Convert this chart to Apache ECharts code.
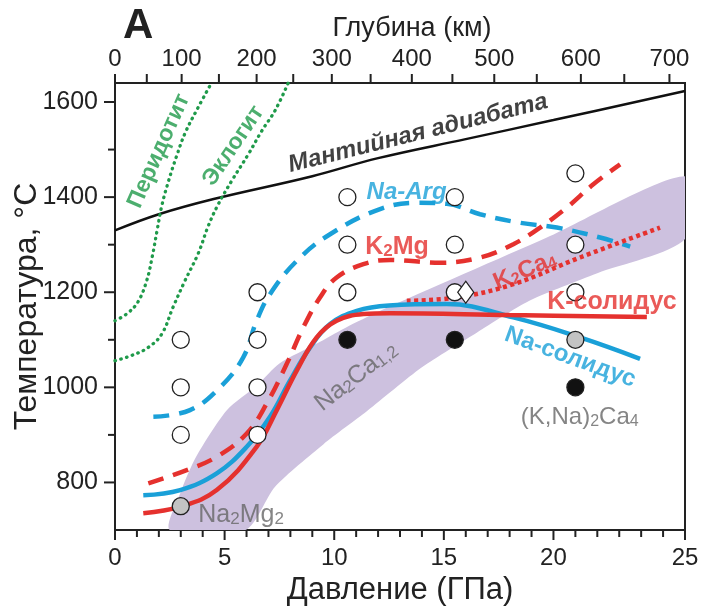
<!DOCTYPE html>
<html>
<head>
<meta charset="utf-8">
<script src="https://cdn.jsdelivr.net/npm/echarts@6.0.0/dist/echarts.min.js"></script>
<style>
  html, body { margin: 0; padding: 0; background: #fff; }
  #chart { width: 704px; height: 612px; }
</style>
</head>
<body>
<div id="chart"></div>
<script>
// axes
const depthTicksKm = [0, 50, 100, 150, 200, 250, 300, 350, 400, 450, 500, 550, 600, 650, 700]
const depthTicksGPa = [0, 1.45, 3.04, 4.74, 6.46, 8.13, 9.89, 11.66, 13.54, 15.39, 17.3, 19.24, 21.25, 23.23, 25.29]
const pressureLabelAt = [0, 5, 10, 15, 20, 26]
const pressureLabels = ['0', '5', '10', '15', '20', '25']
const pressureMinor = [1, 2, 3, 4, 6, 7, 8, 9, 11, 12, 13, 14, 16, 17, 18, 19, 21, 22, 23, 24, 25]
const tempLabels = [800, 1000, 1200, 1400, 1600]
const tempMinor = [900, 1100, 1300, 1500]

// curves [GPa, °C]
const adiabat = [[0, 1330], [2, 1364], [4.5, 1396], [9, 1444], [12, 1482], [16, 1522], [20, 1562], [26, 1623]]
const peridotite = [[0, 1140], [0.55, 1155], [1.05, 1180], [1.45, 1225], [1.7, 1275], [1.92, 1330], [2.15, 1385], [2.45, 1435], [2.8, 1485], [3.2, 1535], [3.75, 1585], [4.4, 1640]]
const eclogite = [[0, 1056], [0.76, 1067], [1.52, 1084], [2.13, 1112], [2.66, 1170], [3.19, 1224], [3.8, 1282], [4.26, 1340], [4.71, 1385], [5.32, 1434], [6.08, 1490], [6.69, 1539], [7.3, 1582], [7.9, 1640]]
const naArg = [[1.75, 938], [3.42, 952], [4.79, 1000], [5.85, 1063], [6.46, 1140], [7.07, 1196], [8.29, 1266], [9.81, 1322], [12.09, 1375], [13.8, 1388], [15.13, 1386], [16.65, 1364], [18.48, 1346], [20.15, 1336], [22.13, 1315], [23.5, 1296]]
const k2Mg = [[1.52, 798], [3.27, 826], [4.64, 854], [6.01, 903], [6.92, 966], [7.83, 1049], [8.59, 1126], [9.35, 1189], [10.11, 1231], [11.33, 1259], [12.55, 1268], [14.83, 1262], [16.65, 1273], [18.17, 1301], [19.39, 1336], [20.61, 1378], [21.82, 1427], [23.04, 1469]]
const k2Ca4 = [[13.31, 1182], [15.59, 1189], [18.17, 1217], [21.21, 1273], [24.86, 1336]]
const naSolidus = [[1.29, 773], [2.97, 784], [4.64, 819], [6.01, 875], [7.07, 938], [7.98, 1014], [8.9, 1084], [9.81, 1133], [11.03, 1161], [12.5, 1172], [15.13, 1175], [18.17, 1147], [21.21, 1105], [23.95, 1060]]
const kSolidus = [[1.29, 735], [2.97, 749], [4.64, 784], [6.46, 875], [7.38, 952], [8.29, 1035], [9.2, 1105], [10.11, 1140], [11.33, 1154], [12.55, 1156], [18, 1152], [24.26, 1148]]

// shaded field
const bandUpper = [[2.5, 700], [3.0, 780], [3.7, 854], [5.1, 952], [6.5, 1005], [7.5, 1050], [9.2, 1092], [10.5, 1125], [12.1, 1161], [19.7, 1315], [26, 1444]]
const bandLower = [[26, 1312], [22, 1240], [18.9, 1182], [16.5, 1115], [14, 1042], [11.5, 950], [9.5, 880], [7.3, 791], [5.95, 700]]

// experiments
const openPts = [[3, 1100], [3, 1000], [3, 900], [6.5, 1200], [6.5, 1100], [6.5, 1000], [6.5, 900], [10.6, 1400], [10.6, 1300], [10.6, 1200], [15.5, 1400], [15.5, 1300], [15.5, 1200], [21, 1450], [21, 1300], [21, 1200]]
const blackPts = [[10.6, 1100], [15.5, 1100], [21, 1000]]
const grayPts = [[3, 750], [21, 1100]]
const diamondPts = [[16, 1200]]

const FONT = 'Liberation Sans, Arial, sans-serif'
const BLUE = '#1aa0d8'
const RED = '#e5312e'
const GREEN = '#1f9a4a'
const GRAY = '#666'
const INK = '#222'
const X_MIN = 0, X_MAX = 26, Y_MIN = 700, Y_MAX = 1640

// text annotations, placed in data coordinates
const notes = [
  { at: [13.82, 1534], text: 'Мантийная адиабата', rotate: 14, color: '#111', size: 24, style: 'italic' },
  { at: [2.0, 1497], text: 'Перидотит', rotate: 66, color: GREEN, size: 23 },
  { at: [5.4, 1508], text: 'Эклогит', rotate: 56, color: GREEN, size: 23 },
  { at: [13.3, 1409], text: 'Na-Arg', rotate: 0, color: BLUE, size: 24, style: 'italic' },
  { at: [12.86, 1295], text: '{b|K}{s|2}{b|Mg}', rotate: 0, color: RED, size: 25 },
  { at: [18.7, 1245], text: '{b|K}{s|2}{b|Ca}{s|4}', rotate: 23, color: RED, size: 24 },
  { at: [22.67, 1180], text: 'K-солидус', rotate: 0, color: RED, size: 25 },
  { at: [20.76, 1063], text: 'Na-солидус', rotate: -20, color: BLUE, size: 24 },
  { at: [11.0, 1023], text: '{n|Na}{t|2}{n|Ca}{t|1,2}', rotate: 38, color: GRAY, size: 25, weight: 'normal' },
  { at: [21.2, 937], text: '{n|(K,Na)}{t|2}{n|Ca}{t|4}', rotate: 0, color: GRAY, size: 24, weight: 'normal' },
  { at: [5.75, 731], text: '{n|Na}{t|2}{n|Mg}{t|2}', rotate: 0, color: GRAY, size: 25, weight: 'normal' }
]

const chart = echarts.init(document.getElementById('chart'), null, { renderer: 'canvas' })

const curve = (data, color, type, width, cap) => ({
  type: 'line',
  data: data,
  smooth: 0.4,
  symbol: 'none',
  z: 3,
  lineStyle: { color: color, width: width, type: type, cap: cap || 'butt' }
})

const pts = (data, symbol, size, fill) => ({
  type: 'scatter',
  data: data,
  symbol: symbol,
  symbolSize: size,
  z: 5,
  itemStyle: { color: fill, borderColor: INK, borderWidth: 1.3, opacity: 1 }
})

// outward tick marks, positioned through the axis scales
const ticks = (values, side, len) => ({
  type: 'custom',
  clip: false,
  silent: true,
  z: 2,
  data: values.map(v => [v]),
  renderItem: (params, api) => {
    const v = api.value(0)
    let p, d
    if (side === 'bottom') { p = api.coord([v, Y_MIN]); d = [0, len] }
    else if (side === 'top') { p = api.coord([v, Y_MAX]); d = [0, -len] }
    else { p = api.coord([X_MIN, v]); d = [-len, 0] }
    return {
      type: 'line',
      shape: { x1: p[0], y1: p[1], x2: p[0] + d[0], y2: p[1] + d[1] },
      style: { stroke: INK, lineWidth: 2 }
    }
  }
})

const noteData = notes.map(n => {
  const w = n.weight || 'bold'
  const sub = { color: n.color, fontSize: Math.round(n.size * 0.66), fontWeight: w, fontFamily: FONT, verticalAlign: 'bottom', padding: [6, 0, 0, 0] }
  const big = { color: n.color, fontSize: n.size, fontWeight: w, fontFamily: FONT }
  return {
    value: n.at,
    label: {
      show: true,
      position: 'inside',
      formatter: n.text,
      rotate: n.rotate,
      color: n.color,
      fontSize: n.size,
      fontWeight: w,
      fontStyle: n.style || 'normal',
      fontFamily: FONT,
      rich: { b: big, n: big, s: sub, t: sub }
    }
  }
})

const option = {
  animation: false,
  backgroundColor: '#fff',
  textStyle: { fontFamily: FONT },
  grid: {
    left: 115, right: 19, top: 83, bottom: 82,
    containLabel: false, outerBoundsMode: 'none',
    show: true, borderColor: INK, borderWidth: 2, backgroundColor: 'transparent'
  },
  graphic: [{
    type: 'text', left: 123, top: 5,
    style: { text: 'A', fontSize: 42, fontWeight: 'bold', fontFamily: FONT, fill: INK }
  }],
  xAxis: [
    {
      type: 'value', position: 'bottom', min: X_MIN, max: X_MAX,
      name: 'Давление (ГПа)', nameLocation: 'middle', nameGap: 42,
      nameTextStyle: { fontSize: 31, color: INK, fontFamily: FONT },
      axisLine: { show: true, lineStyle: { color: INK, width: 2 } },
      axisTick: { show: false },
      axisLabel: {
        fontSize: 24, color: INK, margin: 16, customValues: pressureLabelAt,
        formatter: v => pressureLabels[pressureLabelAt.indexOf(v)]
      },
      splitLine: { show: false }
    },
    {
      type: 'value', position: 'top', min: X_MIN, max: X_MAX,
      name: 'Глубина (км)', nameLocation: 'middle', nameGap: 37,
      nameTextStyle: { fontSize: 27, color: INK, fontFamily: FONT, padding: [0, 0, 0, 24] },
      axisLine: { show: true, lineStyle: { color: INK, width: 2 } },
      axisTick: { show: false },
      axisLabel: {
        fontSize: 24, color: INK, margin: 12,
        customValues: depthTicksGPa.filter((v, i) => depthTicksKm[i] % 100 === 0),
        formatter: v => String(depthTicksKm[depthTicksGPa.indexOf(v)])
      },
      splitLine: { show: false }
    }
  ],
  yAxis: [
    {
      type: 'value', position: 'left', min: Y_MIN, max: Y_MAX,
      name: 'Температура, °C', nameLocation: 'middle', nameGap: 72, nameRotate: 90,
      nameMoveOverlap: false,
      nameTextStyle: { fontSize: 32, color: INK, fontFamily: FONT },
      axisLine: { show: true, lineStyle: { color: INK, width: 2 } },
      axisTick: { show: false },
      axisLabel: { fontSize: 25, color: INK, margin: 17, customValues: tempLabels, formatter: v => String(v) },
      splitLine: { show: false }
    }
  ],
  series: [
    {
      type: 'custom',
      clip: true,
      z: 1,
      data: [0],
      renderItem: (params, api) => {
        const ring = bandUpper.concat(bandLower).map(p => api.coord(p))
        return { type: 'polygon', shape: { points: ring, smooth: 0.25 }, style: { fill: '#cdc1df' } }
      }
    },
    ticks(pressureLabelAt, 'bottom', 10),
    ticks(pressureMinor, 'bottom', 7),
    ticks(depthTicksGPa, 'top', 9),
    ticks(tempLabels, 'left', 11),
    ticks(tempMinor, 'left', 7),
    curve(adiabat, '#111', 'solid', 2.5),
    curve(peridotite, GREEN, [0.5, 5.5], 3.3, 'round'),
    curve(eclogite, GREEN, [0.5, 5.5], 3.3, 'round'),
    curve(naArg, BLUE, [16, 10], 4.5),
    curve(k2Mg, RED, [16, 10], 4.5),
    curve(k2Ca4, RED, [4, 3.5], 4.5),
    curve(naSolidus, BLUE, 'solid', 4.5),
    curve(kSolidus, RED, 'solid', 4.5),
    pts(openPts, 'circle', 17, '#fff'),
    pts(blackPts, 'circle', 17, '#111'),
    pts(grayPts, 'circle', 17, '#c3c3c3'),
    pts(diamondPts, 'diamond', [16, 22], '#fff'),
    {
      type: 'scatter',
      z: 6,
      symbolSize: 1,
      itemStyle: { color: 'transparent' },
      data: noteData
    }
  ]
}

chart.setOption(option)
</script>
</body>
</html>
